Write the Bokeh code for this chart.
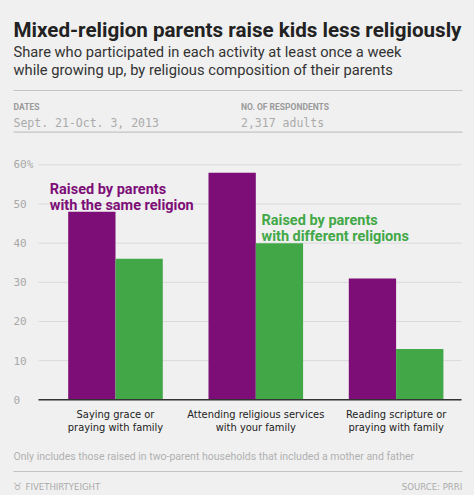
from bokeh.plotting import figure
from bokeh.models import Label, BoxAnnotation
from bokeh.embed import file_html
from bokeh.resources import INLINE

# ---- data ----
categories = ["Saying grace or\npraying with family",
              "Attending religious services\nwith your family",
              "Reading scripture or\npraying with family"]
same_religion = [48, 58, 31]
different_religions = [36, 40, 13]
y_ticks = [0, 10, 20, 30, 40, 50, 60]
y_tick_labels = ["0", "10", "20", "30", "40", "50", "60%"]

PURPLE = "#7d0e77"
GREEN = "#42a847"
BG = "#f0f0f0"

W, H = 474, 495
# layout of the chart area in page pixels
X0_PAGE = 115.0       # page x of first category centre
PX_PER_CAT = 140.3
Y0_PAGE = 399.3       # page y of value 0
PX_PER_UNIT = 3.9167
PLOT_LEFT, PLOT_RIGHT = 38, 461

x_start = (0 - X0_PAGE) / PX_PER_CAT
x_end = (W - X0_PAGE) / PX_PER_CAT
y_start = -(H - Y0_PAGE) / PX_PER_UNIT
y_end = Y0_PAGE / PX_PER_UNIT

p = figure(width=W, height=H, output_backend="svg", toolbar_location=None,
           x_range=(x_start, x_end), y_range=(y_start, y_end),
           x_axis_location=None, y_axis_location=None,
           min_border=0)
p.background_fill_color = BG
p.border_fill_color = BG
p.outline_line_color = None
p.grid.visible = False

gx0 = (PLOT_LEFT - X0_PAGE) / PX_PER_CAT
gx1 = (PLOT_RIGHT - X0_PAGE) / PX_PER_CAT

# grid lines
p.segment(x0=[gx0] * len(y_ticks), x1=[gx1] * len(y_ticks), y0=y_ticks, y1=y_ticks,
          line_color="#dadada", line_width=1)

xs = list(range(len(categories)))
bw = 47.3 / PX_PER_CAT
p.vbar(x=[x - bw / 2 for x in xs], top=same_religion, width=bw,
       fill_color=PURPLE, line_color=None)
p.vbar(x=[x + bw / 2 for x in xs], top=different_religions, width=bw,
       fill_color=GREEN, line_color=None)

# baseline (axis line)
p.segment(x0=[gx0], x1=[gx1], y0=[0], y1=[0], line_color="#333333", line_width=1.5)


def sy(py):
    return H - py


def lab(text, px, py, size, color, font="Roboto", style="normal", align="left"):
    p.add_layout(Label(x=px, y=sy(py), x_units="screen", y_units="screen",
                       text=text, text_font=font, text_font_size=size,
                       text_color=color, text_font_style=style,
                       text_align=align, text_baseline="alphabetic"))


def hline(py, x0=13, x1=462, color="#c4c4c4"):
    p.add_layout(BoxAnnotation(left=x0, right=x1, top=sy(py) + 0.6,
                               bottom=sy(py) - 0.6, left_units="screen",
                               right_units="screen", top_units="screen",
                               bottom_units="screen", fill_color=color,
                               fill_alpha=1, line_color=None))


# y tick labels
for t, s in zip(y_ticks, y_tick_labels):
    p.add_layout(Label(x=13, y=t, x_units="screen", y_units="data", text=s,
                       text_font="DejaVu Sans Mono", text_font_size="11px",
                       text_color="#a8a8a8", text_align="left",
                       text_baseline="middle"))

# category labels
CAT_FONT = "DejaVu Sans Condensed"
for i, c in enumerate(categories):
    for j, line in enumerate(c.split("\n")):
        p.add_layout(Label(x=i, y=sy(414 + j * 13.4), x_units="data", y_units="screen",
                           text=line, text_font=CAT_FONT, text_font_size="11px",
                           text_color="#222222", text_align="center",
                           text_baseline="alphabetic"))

# header
lab("Mixed-religion parents raise kids less religiously", 13, 29.5, "20.6px", "#222222", style="bold")
lab("Share who participated in each activity at least once a week", 13, 51.5, "14.7px", "#333333")
lab("while growing up, by religious composition of their parents", 13, 69, "14.7px", "#333333")
hline(90)
lab("DATES", 13, 106, "8.5px", "#9a9a9a", style="bold")
lab("NO. OF RESPONDENTS", 240.5, 106, "8.5px", "#9a9a9a", style="bold")
lab("Sept. 21-Oct. 3, 2013", 13, 122.5, "11.5px", "#ababab", font="DejaVu Sans Mono")
lab("2,317 adults", 240.5, 122.5, "11.5px", "#ababab", font="DejaVu Sans Mono")
hline(131.7)

# series labels
lab("Raised by parents", 49.3, 189, "14.5px", PURPLE, style="bold")
lab("with the same religion", 49.3, 205, "14.5px", PURPLE, style="bold")
lab("Raised by parents", 261, 220.3, "14.5px", GREEN, style="bold")
lab("with different religions", 261, 236, "14.5px", GREEN, style="bold")

# footer
lab("Only includes those raised in two-parent households that included a mother and father",
    13, 455.7, "10.5px", "#b0b0b0")
hline(471)
lab("\u2649", 12.5, 486, "10px", "#aaaaaa", font="DejaVu Sans")
lab("FIVETHIRTYEIGHT", 25, 485.7, "9.5px", "#aaaaaa", font=CAT_FONT)
lab("SOURCE: PRRI", 461.7, 485.7, "9.5px", "#aaaaaa", font=CAT_FONT, align="right")

html = file_html(p, INLINE)
html = html.replace("<head>", "<head><style>html,body{background:#f0f0f0;}</style>", 1)
open("out.html", "w").write(html)
